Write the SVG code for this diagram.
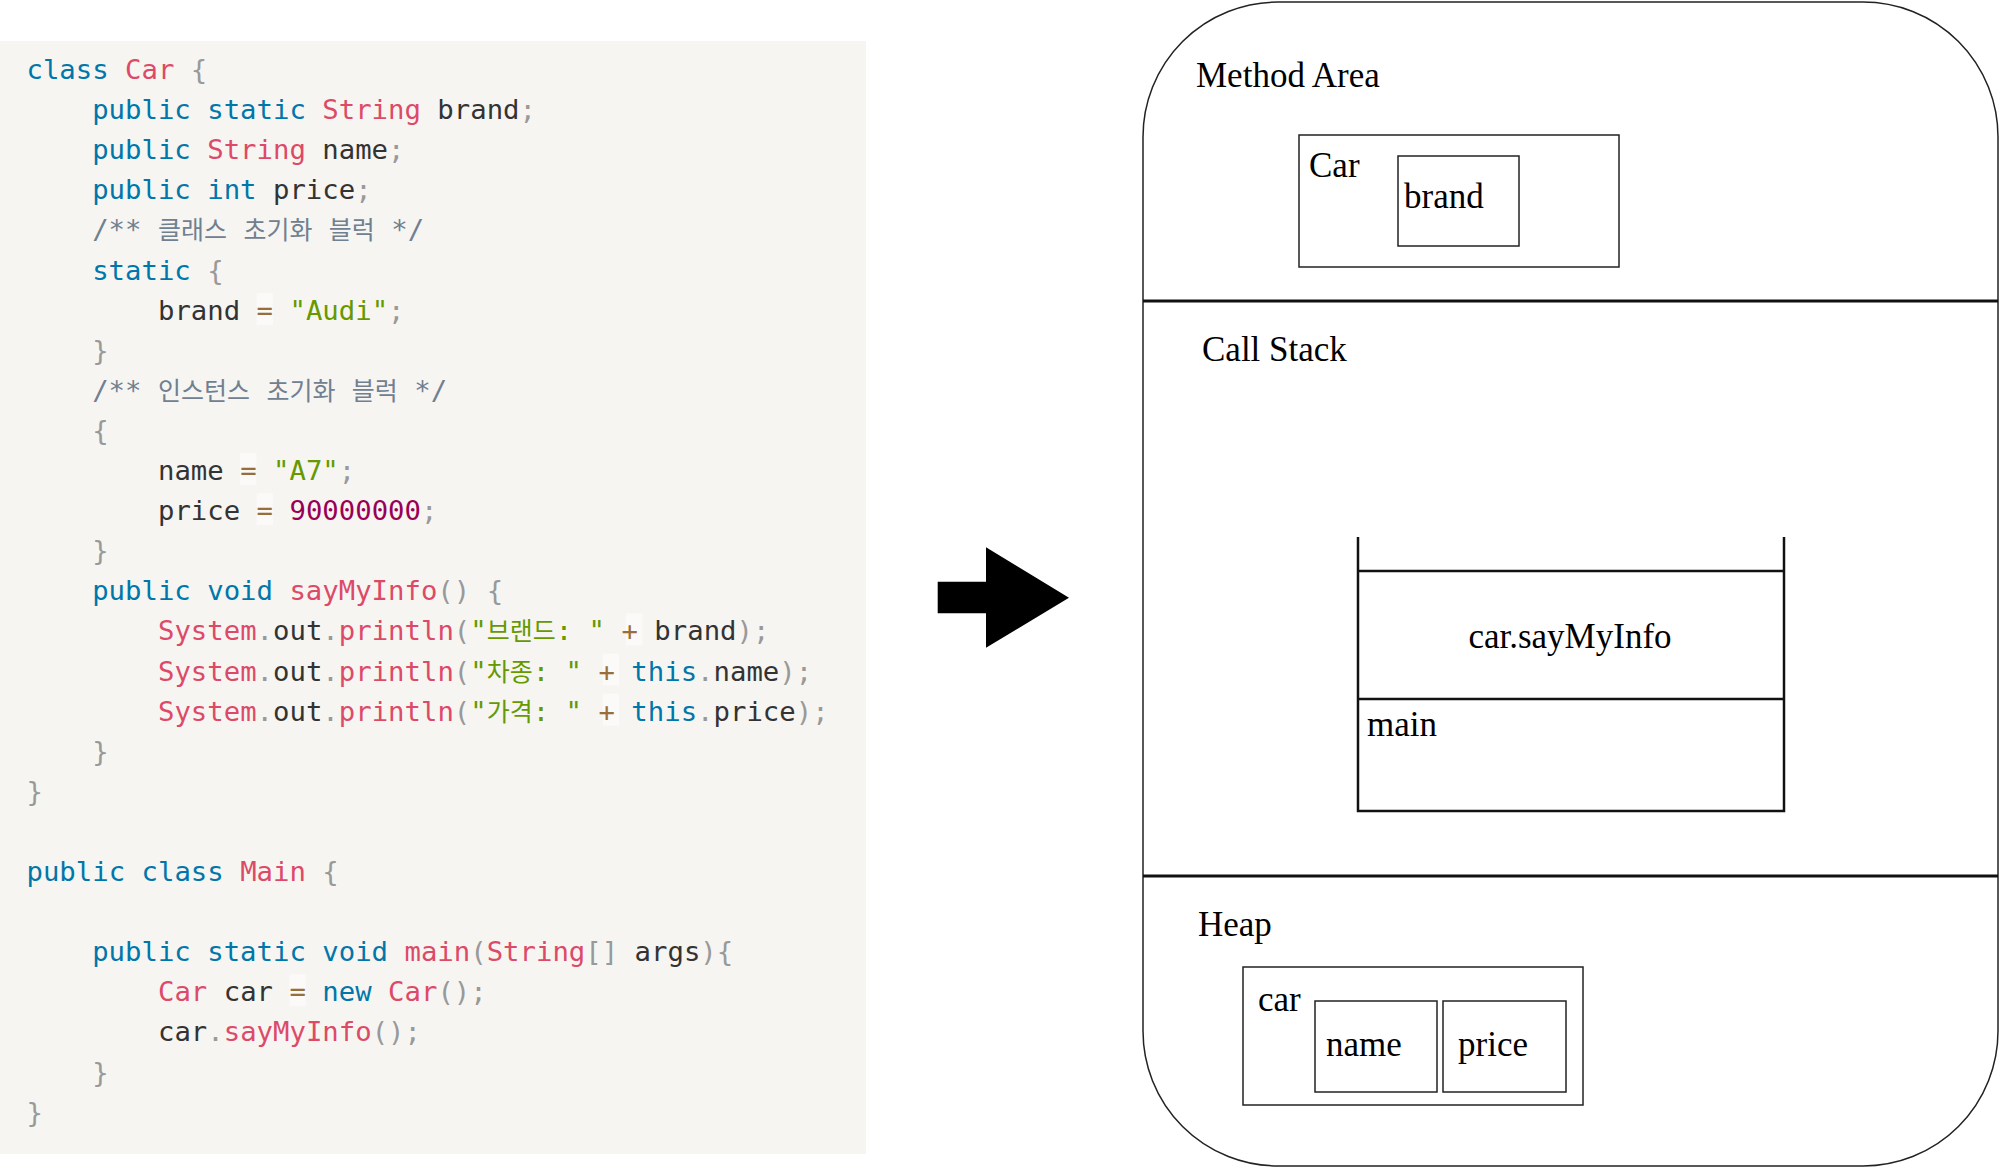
<svg xmlns="http://www.w3.org/2000/svg" width="2000" height="1169" viewBox="0 0 2000 1169">
<style>
.code{font-family:"DejaVu Sans Mono","Liberation Mono","Noto Sans CJK KR",monospace;font-size:27.3px;fill:#333}
.ko{font-family:"Noto Sans CJK KR","Noto Sans CJK JP",sans-serif;font-size:25px}
.k{fill:#0077aa}.c{fill:#dd4a68}.s{fill:#669900}.p{fill:#999999}.o{fill:#9a6e3a}.n{fill:#990055}.cm{fill:#708090}
.opbg{fill:#ffffff;fill-opacity:0.5}
.lbl{font-family:"Liberation Serif","Times New Roman",serif;font-size:35px;fill:#000}
.box{fill:none;stroke:#222;stroke-width:1.5}
.div{stroke:#111;stroke-width:3}
.stk{fill:none;stroke:#111;stroke-width:2.5}
</style>
<rect width="2000" height="1169" fill="#ffffff"/>
<g id="code">
<rect x="0" y="41" width="866" height="1113" fill="#f6f5f2"/>
<rect class="opbg" x="256.5" y="293" width="16.4" height="32"/>
<rect class="opbg" x="240" y="453" width="16.4" height="32"/>
<rect class="opbg" x="256.5" y="493.1" width="16.4" height="32"/>
<rect class="opbg" x="626" y="613.4" width="16.4" height="32"/>
<rect class="opbg" x="602.8" y="653.5" width="16.4" height="32"/>
<rect class="opbg" x="602.8" y="693.6" width="16.4" height="32"/>
<rect class="opbg" x="289.4" y="974.3" width="16.4" height="32"/>
<text class="code" x="26.5" y="79"><tspan class="k">class</tspan> <tspan class="c">Car</tspan> <tspan class="p">{</tspan></text>
<text class="code" x="92.2" y="119.1"><tspan class="k">public</tspan> <tspan class="k">static</tspan> <tspan class="c">String</tspan> brand<tspan class="p">;</tspan></text>
<text class="code" x="92.2" y="159.2"><tspan class="k">public</tspan> <tspan class="c">String</tspan> name<tspan class="p">;</tspan></text>
<text class="code" x="92.2" y="199.3"><tspan class="k">public</tspan> <tspan class="k">int</tspan> price<tspan class="p">;</tspan></text>
<text class="code cm" x="92.2" y="239.4">/** <tspan class="ko">클래스</tspan> <tspan class="ko">초기화</tspan> <tspan class="ko">블럭</tspan> */</text>
<text class="code" x="92.2" y="279.5"><tspan class="k">static</tspan> <tspan class="p">{</tspan></text>
<text class="code" x="158" y="319.6">brand <tspan class="o">=</tspan> <tspan class="s">"Audi"</tspan><tspan class="p">;</tspan></text>
<text class="code p" x="92.2" y="359.7">}</text>
<text class="code cm" x="92.2" y="399.8">/** <tspan class="ko">인스턴스</tspan> <tspan class="ko">초기화</tspan> <tspan class="ko">블럭</tspan> */</text>
<text class="code p" x="92.2" y="439.9">{</text>
<text class="code" x="158" y="480">name <tspan class="o">=</tspan> <tspan class="s">"A7"</tspan><tspan class="p">;</tspan></text>
<text class="code" x="158" y="520.1">price <tspan class="o">=</tspan> <tspan class="n">90000000</tspan><tspan class="p">;</tspan></text>
<text class="code p" x="92.2" y="560.2">}</text>
<text class="code" x="92.2" y="600.3"><tspan class="k">public</tspan> <tspan class="k">void</tspan> <tspan class="c">sayMyInfo</tspan><tspan class="p">()</tspan> <tspan class="p">{</tspan></text>
<text class="code" x="158" y="640.4"><tspan class="c">System</tspan><tspan class="p">.</tspan>out<tspan class="p">.</tspan><tspan class="c">println</tspan><tspan class="p">(</tspan><tspan class="s">"<tspan class="ko">브랜드</tspan>: "</tspan> <tspan class="o">+</tspan> brand<tspan class="p">);</tspan></text>
<text class="code" x="158" y="680.5"><tspan class="c">System</tspan><tspan class="p">.</tspan>out<tspan class="p">.</tspan><tspan class="c">println</tspan><tspan class="p">(</tspan><tspan class="s">"<tspan class="ko">차종</tspan>: "</tspan> <tspan class="o">+</tspan> <tspan class="k">this</tspan><tspan class="p">.</tspan>name<tspan class="p">);</tspan></text>
<text class="code" x="158" y="720.6"><tspan class="c">System</tspan><tspan class="p">.</tspan>out<tspan class="p">.</tspan><tspan class="c">println</tspan><tspan class="p">(</tspan><tspan class="s">"<tspan class="ko">가격</tspan>: "</tspan> <tspan class="o">+</tspan> <tspan class="k">this</tspan><tspan class="p">.</tspan>price<tspan class="p">);</tspan></text>
<text class="code p" x="92.2" y="760.7">}</text>
<text class="code p" x="26.5" y="800.8">}</text>
<text class="code" x="26.5" y="881"><tspan class="k">public</tspan> <tspan class="k">class</tspan> <tspan class="c">Main</tspan> <tspan class="p">{</tspan></text>
<text class="code" x="92.2" y="961.2"><tspan class="k">public</tspan> <tspan class="k">static</tspan> <tspan class="k">void</tspan> <tspan class="c">main</tspan><tspan class="p">(</tspan><tspan class="c">String</tspan><tspan class="p">[]</tspan> args<tspan class="p">){</tspan></text>
<text class="code" x="158" y="1001.3"><tspan class="c">Car</tspan> car <tspan class="o">=</tspan> <tspan class="k">new</tspan> <tspan class="c">Car</tspan><tspan class="p">();</tspan></text>
<text class="code" x="158" y="1041.4">car<tspan class="p">.</tspan><tspan class="c">sayMyInfo</tspan><tspan class="p">();</tspan></text>
<text class="code p" x="92.2" y="1081.5">}</text>
<text class="code p" x="26.5" y="1121.6">}</text>
</g>
<g id="connectors">
<polygon points="937.7,581.7 986,581.7 986,547.3 1069,597.7 986,647.7 986,613.3 937.7,613.3" fill="#000"/>
</g>
<g id="memory">
<rect x="1143" y="2" width="855" height="1164" rx="135" ry="135" fill="#fff" stroke="#222" stroke-width="1.5"/>
<line class="div" x1="1143" y1="301" x2="1998" y2="301"/>
<line class="div" x1="1143" y1="876" x2="1998" y2="876"/>
</g>
<g id="method-area">
<text class="lbl" x="1196" y="87">Method Area</text>
<g id="car-class">
<rect class="box" x="1299" y="135" width="320" height="132"/>
<text class="lbl" x="1309" y="177">Car</text>
</g>
<g id="brand">
<rect class="box" x="1398" y="156" width="121" height="90"/>
<text class="lbl" x="1404" y="208">brand</text>
</g>
</g>
<g id="call-stack">
<text class="lbl" x="1202" y="361">Call Stack</text>
<g id="stack-frame-saymyinfo">
<polyline class="stk" points="1358,537 1358,811 1784,811 1784,537"/>
<line class="stk" x1="1358" y1="571" x2="1784" y2="571"/>
<text class="lbl" x="1570" y="648" text-anchor="middle">car.sayMyInfo</text>
</g>
<g id="stack-frame-main">
<line class="stk" x1="1358" y1="699" x2="1784" y2="699"/>
<text class="lbl" x="1367" y="736">main</text>
</g>
</g>
<g id="heap">
<text class="lbl" x="1198" y="936">Heap</text>
<g id="car-object">
<rect class="box" x="1243" y="967" width="340" height="138"/>
<text class="lbl" x="1258" y="1011">car</text>
</g>
<g id="name">
<rect class="box" x="1315" y="1001" width="122" height="91"/>
<text class="lbl" x="1326" y="1056">name</text>
</g>
<g id="price">
<rect class="box" x="1443" y="1001" width="123" height="91"/>
<text class="lbl" x="1458" y="1056">price</text>
</g>
</g>
</svg>
